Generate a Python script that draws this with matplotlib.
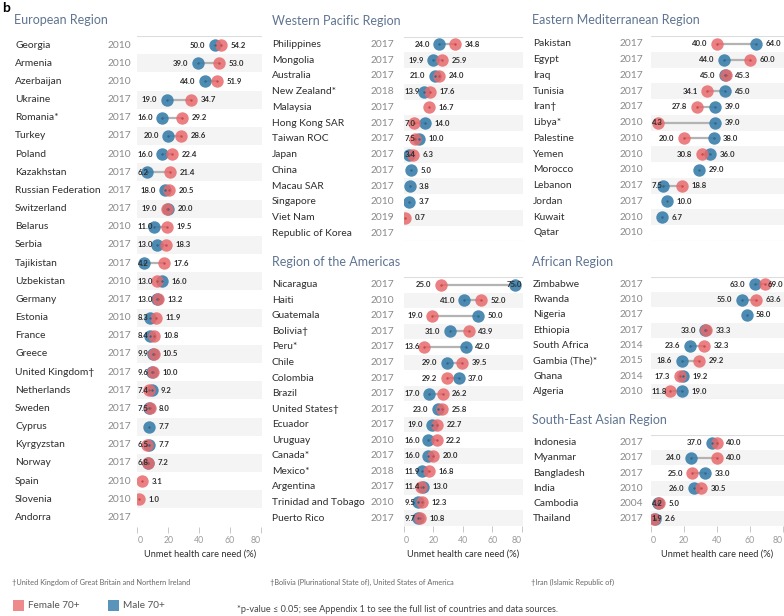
import numpy as np
import matplotlib
matplotlib.use("Agg")
import matplotlib.pyplot as plt
import matplotlib.transforms as mtransforms

plt.rcParams['font.family'] = ['Lato', 'DejaVu Sans']

nan = np.nan

# ---------------- data ----------------
eur_countries = ["Georgia", "Armenia", "Azerbaijan", "Ukraine", "Romania*", "Turkey", "Poland",
                 "Kazakhstan", "Russian Federation", "Switzerland", "Belarus", "Serbia", "Tajikistan",
                 "Uzbekistan", "Germany", "Estonia", "France", "Greece", "United Kingdom\u2020",
                 "Netherlands", "Sweden", "Cyprus", "Kyrgyzstan", "Norway", "Spain", "Slovenia", "Andorra"]
eur_years = ["2010", "2010", "2010", "2017", "2017", "2017", "2010", "2017", "2017", "2017", "2010",
             "2017", "2017", "2010", "2017", "2010", "2017", "2017", "2017", "2017", "2017", "2017",
             "2017", "2017", "2010", "2010", "2017"]
eur_female = [54.2, 53.0, 51.9, 34.7, 29.2, 28.6, 22.4, 21.4, 20.5, 19.0, 19.5, 18.3, 17.6, 13.0, 13.2,
              11.9, 10.8, 10.5, 10.0, 7.4, 8.0, nan, 6.5, 7.2, 3.1, 1.0, nan]
eur_male = [50.0, 39.0, 44.0, 19.0, 16.0, 20.0, 16.0, 6.2, 18.0, 20.0, 11.0, 13.0, 4.2, 16.0, 13.0,
            8.3, 8.4, 9.9, 9.6, 9.2, 7.5, 7.7, 7.7, 6.8, nan, nan, nan]

wp_countries = ["Philippines", "Mongolia", "Australia", "New Zealand*", "Malaysia", "Hong Kong SAR",
                "Taiwan ROC", "Japan", "China", "Macau SAR", "Singapore", "Viet Nam", "Republic of Korea"]
wp_years = ["2017", "2017", "2017", "2018", "2017", "2017", "2017", "2017", "2017", "2017", "2010",
            "2019", "2017"]
wp_female = [34.8, 25.9, 24.0, 17.6, 16.7, 7.0, 7.5, 6.3, nan, nan, nan, 0.7, nan]
wp_male = [24.0, 19.9, 21.0, 13.9, nan, 14.0, 10.0, 3.4, 5.0, 3.8, 3.7, nan, nan]

am_countries = ["Nicaragua", "Haiti", "Guatemala", "Bolivia\u2020", "Peru*", "Chile", "Colombia", "Brazil",
                "United States\u2020", "Ecuador", "Uruguay", "Canada*", "Mexico*", "Argentina",
                "Trinidad and Tobago", "Puerto Rico"]
am_years = ["2017", "2010", "2017", "2017", "2017", "2017", "2017", "2017", "2017", "2017", "2010",
            "2017", "2018", "2017", "2010", "2017"]
am_female = [25.0, 52.0, 19.0, 43.9, 13.6, 39.5, 29.2, 26.2, 25.8, 22.7, 22.2, 20.0, 16.8, 11.4, 12.3, 10.8]
am_male = [75.0, 41.0, 50.0, 31.0, 42.0, 29.0, 37.0, 17.0, 23.0, 19.0, 16.0, 16.0, 11.9, 13.0, 9.5, 9.7]

em_countries = ["Pakistan", "Egypt", "Iraq", "Tunisia", "Iran\u2020", "Libya*", "Palestine", "Yemen",
                "Morocco", "Lebanon", "Jordan", "Kuwait", "Qatar"]
em_years = ["2017", "2017", "2017", "2017", "2017", "2010", "2010", "2010", "2010", "2017", "2017",
            "2010", "2010"]
em_female = [40.0, 60.0, 45.3, 34.1, 27.8, 4.3, 20.0, 30.8, nan, 18.8, nan, nan, nan]
em_male = [64.0, 44.0, 45.0, 45.0, 39.0, 39.0, 38.0, 36.0, 29.0, 7.5, 10.0, 6.7, nan]

af_countries = ["Zimbabwe", "Rwanda", "Nigeria", "Ethiopia", "South Africa", "Gambia (The)*", "Ghana",
                "Algeria"]
af_years = ["2017", "2010", "2017", "2017", "2014", "2015", "2014", "2010"]
af_female = [69.0, 63.6, nan, 33.3, 32.3, 29.2, 17.3, 11.8]
af_male = [63.0, 55.0, 58.0, 33.0, 23.6, 18.6, 19.2, 19.0]

sea_countries = ["Indonesia", "Myanmar", "Bangladesh", "India", "Cambodia", "Thailand"]
sea_years = ["2017", "2017", "2017", "2010", "2004", "2017"]
sea_female = [40.0, 40.0, 25.0, 30.5, 5.0, 1.9]
sea_male = [37.0, 24.0, 33.0, 26.0, 4.2, 2.6]

ticks = [0, 20, 40, 60, 80]
tick_labels = ["0", "20", "40", "60", "80"]
axis_title = "Unmet health care need (%)"

# ---------------- style ----------------
W, H = 784, 616
FEMALE = '#e8696c'
MALE = '#3a7fab'
FEMALE_C = '#c4484c'
MALE_C = '#2d668c'
LINE = '#b3b3b3'
BAND = '#f4f4f4'
TITLE_C = '#5f7491'
TEXT_C = '#2e2e2e'
YEAR_C = '#8a8a8a'
XMAX = 80.7

fig = plt.figure(figsize=(W / 100, H / 100), dpi=100)


def fx(x):
    return x / W


def fy(y):
    return 1 - y / H


# pane geometry: (left px, right px, top px, row height px, label x, year right x, title y, title x, has_axis)
panels = [
    ("European Region", eur_countries, eur_years, eur_female, eur_male,
     137.3, 262, 36, 18.17, 15, 131, 20.5, 14, True),
    ("Western Pacific Region", wp_countries, wp_years, wp_female, wp_male,
     404, 523, 36.5, 15.75, 272, 394.5, 21, 272, False),
    ("Region of the Americas", am_countries, am_years, am_female, am_male,
     404, 523, 277, 15.55, 272, 394.5, 261.5, 272, True),
    ("Eastern Mediterranean Region", em_countries, em_years, em_female, em_male,
     651, 784, 36, 15.75, 533, 643, 20.5, 532, False),
    ("African Region", af_countries, af_years, af_female, af_male,
     651, 784, 276.7, 15.3, 533, 643, 261.5, 532, False),
    ("South-East Asian Region", sea_countries, sea_years, sea_female, sea_male,
     651, 784, 435, 15.2, 533, 643, 419.5, 532, True),
]

labels = []

for (title, countries, years, female, male, x0, x1, top, rh, lx, yrx, ty, tx, has_axis) in panels:
    n = len(countries)
    bottom = top + n * rh
    ax = fig.add_axes([fx(x0), fy(bottom), fx(x1 - x0), (bottom - top) / H])
    ax.set_xlim(0, XMAX)
    ax.set_ylim(n - 0.5, -0.5)
    for s in ax.spines.values():
        s.set_visible(False)
    ax.set_yticks([])
    for i in range(n):
        if i % 2 == 1:
            ax.axhspan(i - 0.5, i + 0.5, color=BAND, lw=0, zorder=0)
    ax.axhline(-0.5, color='#dddddd', lw=0.8, zorder=1)
    if not has_axis:
        ax.axhline(n - 0.5, color='#dddddd', lw=0.8, zorder=1)

    f = np.array(female, dtype=float)
    m = np.array(male, dtype=float)
    rows = np.arange(n)
    both = ~np.isnan(f) & ~np.isnan(m)
    for i in rows[both]:
        ax.plot([f[i], m[i]], [i, i], color=LINE, lw=1.6, solid_capstyle='butt', zorder=2)
    ax.scatter(m, rows, s=80, color=MALE, alpha=0.9, lw=0, zorder=3)
    ax.scatter(f, rows, s=80, color=FEMALE, alpha=0.85, lw=0, zorder=4)
    ax.scatter(m, rows, s=3, color=MALE_C, lw=0, zorder=5)
    ax.scatter(f, rows, s=3, color=FEMALE_C, lw=0, zorder=5)

    # value labels
    for i in range(n):
        vals = [v for v in (f[i], m[i]) if not np.isnan(v)]
        if not vals:
            continue
        lo, hi = min(vals), max(vals)
        if len(vals) == 2:
            t = ax.annotate(f"{lo:.1f}", (lo, i), xytext=(-9.5, 0), textcoords='offset pixels',
                            ha='right', va='center', fontsize=5.6, fontweight='bold', color=TEXT_C,
                            zorder=6, annotation_clip=False)
            labels.append((t, ax))
        t = ax.annotate(f"{hi:.1f}", (hi, i), xytext=(9.5, 0), textcoords='offset pixels',
                        ha='left', va='center', fontsize=5.6, fontweight='bold', color=TEXT_C,
                        zorder=6, annotation_clip=False)
        labels.append((t, ax))

    # country names and years
    trans = mtransforms.blended_transform_factory(fig.transFigure, ax.transData)
    for i in range(n):
        ax.text(fx(lx), i, countries[i], transform=trans, ha='left', va='center',
                fontsize=7.4, color=TEXT_C)
        ax.text(fx(yrx), i, years[i], transform=trans, ha='right', va='center',
                fontsize=7.4, color=YEAR_C)

    fig.text(fx(tx), fy(ty), title, ha='left', va='center', fontsize=9, color=TITLE_C)

    if has_axis:
        ax.set_xticks(ticks)
        ax.set_xticklabels(tick_labels)
        tl = ax.get_xticklabels()
        tl[0].set_ha('left')
        tl[-1].set_ha('right')
        ax.tick_params(axis='x', length=4, width=0.7, color='#c8c8c8', labelsize=6.3,
                       labelcolor='#9a9a9a', pad=3)
        fig.text(fx((x0 + x1) / 2), fy(554), axis_title, ha='center', va='center',
                 fontsize=6.7, color=TEXT_C)
    else:
        ax.set_xticks([])

# clamp value labels inside their pane
fig.canvas.draw()
r = fig.canvas.get_renderer()
for t, ax in labels:
    bb = t.get_window_extent(r)
    abb = ax.get_window_extent(r)
    dx = 0
    if bb.x0 < abb.x0 + 0.5:
        dx = abb.x0 + 0.5 - bb.x0
    elif bb.x1 > abb.x1 - 1:
        dx = abb.x1 - 1 - bb.x1
    if dx:
        ox, oy = t.xyann
        t.xyann = (ox + dx, oy)

# panel letter
fig.text(fx(2), fy(8), "b", ha='left', va='center', fontsize=10, fontweight='bold', color='black')

# footnotes
fig.text(fx(12), fy(582), "\u2020United Kingdom of Great Britain and Northern Ireland",
         ha='left', va='center', fontsize=5.3, color='#666666')
fig.text(fx(270), fy(582), "\u2020Bolivia (Plurinational State of), United States of America",
         ha='left', va='center', fontsize=5.3, color='#666666')
fig.text(fx(531), fy(582), "\u2020Iran (Islamic Republic of)",
         ha='left', va='center', fontsize=5.3, color='#666666')

# legend
fig.patches.append(plt.Rectangle((fx(12.7), fy(611)), fx(11), 11 / H, transform=fig.transFigure,
                                 color='#ee8a8c', lw=0))
fig.text(fx(28), fy(606), "Female 70+", ha='left', va='center', fontsize=7.2, color='#555555')
fig.patches.append(plt.Rectangle((fx(108.3), fy(611)), fx(11), 11 / H, transform=fig.transFigure,
                                 color='#5b94bb', lw=0))
fig.text(fx(123), fy(606), "Male 70+", ha='left', va='center', fontsize=7.2, color='#555555')
fig.text(fx(237), fy(609), "*p-value \u2264 0.05; see Appendix 1 to see the full list of countries and data sources.",
         ha='left', va='center', fontsize=6.6, color='#444444')

fig.savefig("out.png", dpi=100)
